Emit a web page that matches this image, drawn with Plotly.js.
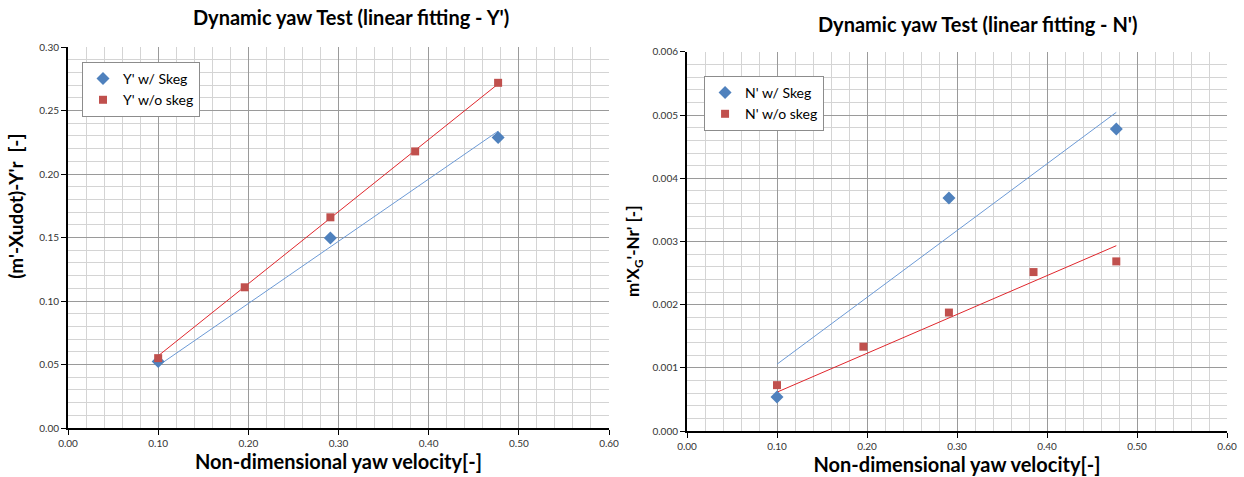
<!DOCTYPE html>
<html>
<head>
<meta charset="utf-8">
<script src="https://cdn.plot.ly/plotly-3.0.1.min.js"></script>
<style>
  html, body { margin: 0; padding: 0; background: #fff; }
  #chart { width: 1244px; height: 477px; }
</style>
</head>
<body>
<div id="chart"></div>
<script>
// Non-dimensional yaw velocity of each run
const velWithSkeg = [0.100, 0.291, 0.477];
const velWithoutSkeg = [0.100, 0.196, 0.291, 0.385, 0.477];

// Sway-force term (m'-Xudot)-Y'r
const yWithSkeg = [0.0524, 0.1496, 0.2288];
const yWithoutSkeg = [0.0550, 0.1108, 0.1659, 0.2178, 0.2718];

// Yaw-moment term m'xG'-Nr'
const nWithSkeg = [0.00054, 0.00369, 0.00478];
const nWithoutSkeg = [0.000726, 0.001335, 0.001875, 0.002516, 0.002685];

const seriesNames = {
  yWith: "Y' w/ Skeg", yWithout: "Y' w/o skeg",
  nWith: "N' w/ Skeg", nWithout: "N' w/o skeg"
};

const BLUE = '#4F81BD', RED = '#C0504D';
const BLUE_LINE = '#6C9AD6', RED_LINE = '#E0262C';
const FONT = 'Lato, "Open Sans", sans-serif';

// Least-squares line through the origin, spanning the measured range
function originFit(xs, ys) {
  let sxy = 0, sxx = 0;
  xs.forEach((x, i) => { sxy += x * ys[i]; sxx += x * x; });
  const k = sxy / sxx;
  const x0 = Math.min(...xs), x1 = Math.max(...xs);
  return { x: [x0, x1], y: [k * x0, k * x1] };
}

function points(xs, ys, name, color, symbol, size, xa, ya, legend) {
  return {
    x: xs, y: ys, name: name, type: 'scatter', mode: 'markers',
    xaxis: xa, yaxis: ya, legend: legend,
    marker: { color: color, symbol: symbol, size: size }
  };
}
function fitLine(xs, ys, color, xa, ya) {
  const f = originFit(xs, ys);
  return {
    x: f.x, y: f.y, type: 'scatter', mode: 'lines', showlegend: false,
    xaxis: xa, yaxis: ya, hoverinfo: 'skip',
    line: { color: color, width: 1 }
  };
}

const data = [
  fitLine(velWithSkeg, yWithSkeg, BLUE_LINE, 'x', 'y'),
  fitLine(velWithoutSkeg, yWithoutSkeg, RED_LINE, 'x', 'y'),
  points(velWithSkeg, yWithSkeg, seriesNames.yWith, BLUE, 'diamond', 10, 'x', 'y', 'legend'),
  points(velWithoutSkeg, yWithoutSkeg, seriesNames.yWithout, RED, 'square', 8, 'x', 'y', 'legend'),
  fitLine(velWithSkeg, nWithSkeg, BLUE_LINE, 'x2', 'y2'),
  fitLine(velWithoutSkeg, nWithoutSkeg, RED_LINE, 'x2', 'y2'),
  points(velWithSkeg, nWithSkeg, seriesNames.nWith, BLUE, 'diamond', 10, 'x2', 'y2', 'legend2'),
  points(velWithoutSkeg, nWithoutSkeg, seriesNames.nWithout, RED, 'square', 8, 'x2', 'y2', 'legend2')
];

const tickFont = { family: FONT, size: 10, color: '#333' };
const axisTitleFont = { family: FONT, size: 20, color: '#000', weight: 'bold' };

function xAxis(domain, anchor) {
  return {
    domain: domain, anchor: anchor, range: [0, 0.6], dtick: 0.1, tick0: 0,
    tickformat: '.2f', tickfont: tickFont,
    showline: true, linecolor: '#000', linewidth: 2,
    ticks: 'outside', ticklen: 5, tickcolor: '#000', tickwidth: 1,
    showgrid: true, gridcolor: '#9a9a9a', gridwidth: 1, zeroline: false,
    minor: { dtick: 0.02, showgrid: true, gridcolor: '#d4d4d4', gridwidth: 1 },
    title: { text: 'Non-dimensional yaw velocity[-]', font: axisTitleFont, standoff: 5 }
  };
}
function yAxis(domain, anchor, max, step, fmt, minorStep) {
  return {
    domain: domain, anchor: anchor, range: [0, max], dtick: step, tick0: 0,
    tickformat: fmt, tickfont: tickFont,
    showline: true, linecolor: '#000', linewidth: 2,
    ticks: 'outside', ticklen: 5, tickcolor: '#000', tickwidth: 1,
    showgrid: true, gridcolor: '#9a9a9a', gridwidth: 1, zeroline: false,
    minor: { dtick: minorStep, showgrid: true, gridcolor: '#d4d4d4', gridwidth: 1 }
  };
}

const legendFont = { family: FONT, size: 14, color: '#000' };
const chartTitleFont = { family: FONT, size: 20, color: '#000', weight: 'bold' };

const layout = {
  width: 1244, height: 477,
  margin: { l: 68, r: 17, t: 47, b: 46 },
  paper_bgcolor: '#fff', plot_bgcolor: '#fff',
  font: { family: FONT },
  xaxis: xAxis([0, 0.4668], 'y'),
  yaxis: yAxis([0.0078, 1], 'x', 0.30, 0.05, '.2f', 0.01),
  xaxis2: xAxis([0.5341, 1], 'y2'),
  yaxis2: yAxis([0, 0.987], 'x2', 0.006, 0.001, '.3f', 0.0002),
  legend: {
    x: 0.0121, y: 0.961, xanchor: 'left', yanchor: 'top',
    bgcolor: '#fff', bordercolor: '#8c8c8c', borderwidth: 1,
    font: legendFont, itemwidth: 30
  },
  legend2: {
    x: 0.5488, y: 0.9245, xanchor: 'left', yanchor: 'top',
    bgcolor: '#fff', bordercolor: '#8c8c8c', borderwidth: 1,
    font: legendFont, itemwidth: 30
  },
  annotations: [
    { text: "Dynamic yaw Test (linear fitting - Y')", xref: 'paper', yref: 'paper',
      x: 0.2442, y: 1.078, xanchor: 'center', yanchor: 'middle', showarrow: false,
      font: chartTitleFont },
    { text: "Dynamic yaw Test (linear fitting - N')", xref: 'paper', yref: 'paper',
      x: 0.785, y: 1.06, xanchor: 'center', yanchor: 'middle', showarrow: false,
      font: chartTitleFont },
    { text: "(m'-Xudot)-Y'r  [-]", xref: 'paper', yref: 'paper', textangle: -90,
      x: -0.045, y: 0.586, xanchor: 'center', yanchor: 'middle', showarrow: false,
      font: { family: FONT, size: 19, color: '#000', weight: 'bold' } },
    { text: "m'X<sub>G</sub>'-Nr' [-]", xref: 'paper', yref: 'paper', textangle: -90,
      x: 0.4885, y: 0.469, xanchor: 'center', yanchor: 'middle', showarrow: false,
      font: { family: FONT, size: 17, color: '#000', weight: 'bold' } }
  ],
  showlegend: true
};

Plotly.newPlot('chart', data, layout, { displayModeBar: false, staticPlot: true });
</script>
</body>
</html>
